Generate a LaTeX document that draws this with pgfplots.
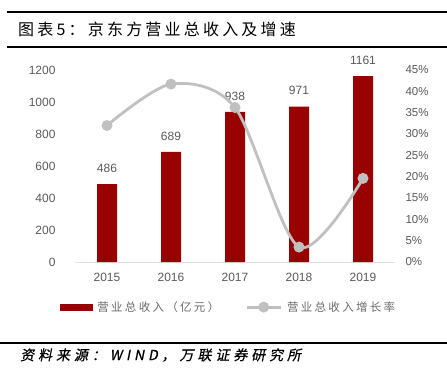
\documentclass[border=0pt]{standalone}
\usepackage{fontspec}
\setmainfont{Liberation Sans}
\newfontfamily\cjk{Noto Sans CJK SC}
\newfontfamily\cjkls[LetterSpace=20]{Noto Sans CJK SC}
\newfontfamily\cjkti[LetterSpace=20]{Noto Sans CJK SC}
\newfontfamily\cjkit[FakeSlant=0.2,FakeBold=0.6,LetterSpace=28]{Noto Sans CJK SC}
\usepackage{pgfplots}
\pgfplotsset{compat=1.18}
\definecolor{barred}{HTML}{990000}
\definecolor{linegray}{HTML}{C0C0C0}
\definecolor{txtgray}{HTML}{595959}
\begin{document}
\begin{tikzpicture}
\useasboundingbox (0,0) rectangle (447pt,376pt);
% title bars
\draw[line width=2pt] (7pt,364pt) -- (447pt,364pt);
\draw[line width=2pt] (7pt,329pt) -- (447pt,329pt);
\node[anchor=west, inner sep=0pt] at (18pt,347pt) {\fontsize{16}{19}\selectfont\cjkti 图表5：京东方营业总收入及增速};
% source
\draw[line width=1.6pt] (0pt,33pt) -- (447pt,33pt);
\node[anchor=west, inner sep=0pt] at (20pt,21pt) {\fontsize{14}{16}\selectfont\cjkit 资料来源：WIND，万联证券研究所};

\begin{axis}[
  at={(75pt,114pt)}, anchor=south west,
  scale only axis, width=320pt, height=192pt,
  xmin=-0.5, xmax=4.5, ymin=0, ymax=1200,
  ytick={0,200,...,1200},
  xtick={0,1,2,3,4}, xticklabels={2015,2016,2017,2018,2019},
  axis x line*=bottom, axis y line*=left,
  x axis line style={draw=gray!25, line width=1pt, -},
  y axis line style={draw=none},
  major tick length=0pt,
  /pgf/number format/assume math mode=true,
  /pgf/number format/1000 sep={},
  tick label style={font=\fontsize{12}{14}\selectfont, text=txtgray},
  yticklabel style={xshift=-16pt},
  xticklabel style={yshift=-8pt},
  nodes near coords,
  every node near coord/.append style={font=\fontsize{12}{14}\selectfont, text=txtgray, yshift=8pt},
]
\addplot[ybar, bar width=20pt, fill=barred, draw=none] coordinates {(0,486) (1,689) (2,938) (3,971) (4,1161)};
\end{axis}

\begin{axis}[
  at={(75pt,114pt)}, anchor=south west,
  scale only axis, width=320pt, height=192pt,
  xmin=-0.5, xmax=4.5, ymin=0, ymax=45,
  ytick={0,5,...,45},
  yticklabel={\pgfmathprintnumber{\tick}\%},
  axis y line*=right, hide x axis,
  y axis line style={draw=none},
  major tick length=0pt,
  /pgf/number format/assume math mode=true,
  tick label style={font=\fontsize{11.5}{13}\selectfont, text=txtgray},
  yticklabel style={xshift=7pt},
  legend style={at={(0.48,-0.235)}, anchor=center, draw=none, fill=none,
    legend columns=2, font=\fontsize{11.5}{13}\selectfont\cjkls, text=txtgray!90,
    /tikz/every odd column/.append style={column sep=3pt},
    /tikz/every even column/.append style={column sep=24pt}},
]
\addlegendimage{legend image code/.code={\fill[barred] (0pt,-3pt) rectangle (32pt,3pt);}}
\addlegendentry{营业总收入（亿元）}
\addplot[smooth, tension=0.5, color=linegray, line width=2.8pt, mark=*, mark size=4pt,
  mark options={solid, fill=linegray, draw=none},
  legend image code/.code={\draw[linegray, line width=2.8pt] (0pt,0pt) -- (34pt,0pt);
     \fill[linegray] (17pt,0pt) circle (4pt);}]
  coordinates {(0,32.0) (1,41.7) (2,36.2) (3,3.5) (4,19.6)};
\addlegendentry{营业总收入增长率}
\end{axis}
\end{tikzpicture}
\end{document}
